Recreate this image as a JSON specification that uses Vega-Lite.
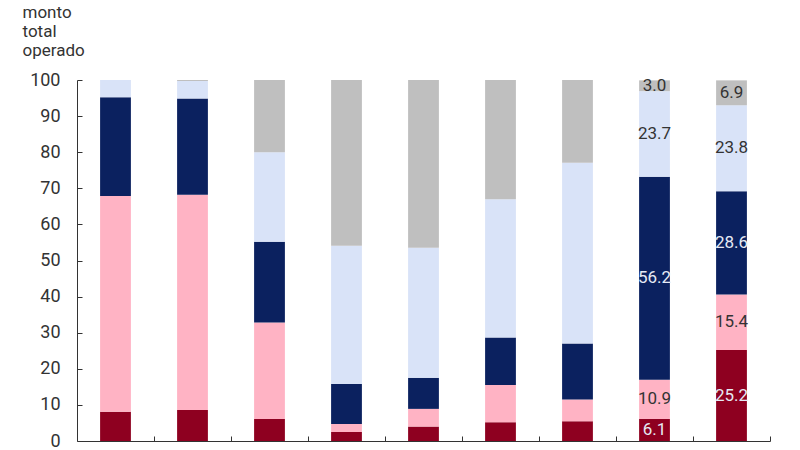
{
  "$schema": "https://vega.github.io/schema/vega-lite/v6.json",
  "width": 693,
  "height": 361,
  "autosize": {"type": "none"},
  "padding": {"left": 77, "top": 80, "right": 30, "bottom": 9},
  "background": "white",
  "config": {
    "font": "Roboto",
    "view": {"stroke": null}
  },
  "data": {
    "values": [
      {"cat": "A", "serie": "S1", "k": 1, "v": 8.1},
      {"cat": "A", "serie": "S2", "k": 2, "v": 59.8},
      {"cat": "A", "serie": "S3", "k": 3, "v": 27.3},
      {"cat": "A", "serie": "S4", "k": 4, "v": 4.8},
      {"cat": "A", "serie": "S5", "k": 5, "v": 0.0},
      {"cat": "B", "serie": "S1", "k": 1, "v": 8.6},
      {"cat": "B", "serie": "S2", "k": 2, "v": 59.6},
      {"cat": "B", "serie": "S3", "k": 3, "v": 26.7},
      {"cat": "B", "serie": "S4", "k": 4, "v": 4.8},
      {"cat": "B", "serie": "S5", "k": 5, "v": 0.3},
      {"cat": "C", "serie": "S1", "k": 1, "v": 6.1},
      {"cat": "C", "serie": "S2", "k": 2, "v": 26.7},
      {"cat": "C", "serie": "S3", "k": 3, "v": 22.4},
      {"cat": "C", "serie": "S4", "k": 4, "v": 24.8},
      {"cat": "C", "serie": "S5", "k": 5, "v": 20.0},
      {"cat": "D", "serie": "S1", "k": 1, "v": 2.5},
      {"cat": "D", "serie": "S2", "k": 2, "v": 2.2},
      {"cat": "D", "serie": "S3", "k": 3, "v": 11.1},
      {"cat": "D", "serie": "S4", "k": 4, "v": 38.3},
      {"cat": "D", "serie": "S5", "k": 5, "v": 45.9},
      {"cat": "E", "serie": "S1", "k": 1, "v": 4.0},
      {"cat": "E", "serie": "S2", "k": 2, "v": 4.9},
      {"cat": "E", "serie": "S3", "k": 3, "v": 8.6},
      {"cat": "E", "serie": "S4", "k": 4, "v": 36.0},
      {"cat": "E", "serie": "S5", "k": 5, "v": 46.5},
      {"cat": "F", "serie": "S1", "k": 1, "v": 5.2},
      {"cat": "F", "serie": "S2", "k": 2, "v": 10.3},
      {"cat": "F", "serie": "S3", "k": 3, "v": 13.2},
      {"cat": "F", "serie": "S4", "k": 4, "v": 38.3},
      {"cat": "F", "serie": "S5", "k": 5, "v": 33.0},
      {"cat": "G", "serie": "S1", "k": 1, "v": 5.5},
      {"cat": "G", "serie": "S2", "k": 2, "v": 6.0},
      {"cat": "G", "serie": "S3", "k": 3, "v": 15.5},
      {"cat": "G", "serie": "S4", "k": 4, "v": 50.1},
      {"cat": "G", "serie": "S5", "k": 5, "v": 22.9},
      {"cat": "H", "serie": "S1", "k": 1, "v": 6.1},
      {"cat": "H", "serie": "S2", "k": 2, "v": 10.9},
      {"cat": "H", "serie": "S3", "k": 3, "v": 56.2},
      {"cat": "H", "serie": "S4", "k": 4, "v": 23.7},
      {"cat": "H", "serie": "S5", "k": 5, "v": 3.0},
      {"cat": "I", "serie": "S1", "k": 1, "v": 25.2},
      {"cat": "I", "serie": "S2", "k": 2, "v": 15.4},
      {"cat": "I", "serie": "S3", "k": 3, "v": 28.6},
      {"cat": "I", "serie": "S4", "k": 4, "v": 23.8},
      {"cat": "I", "serie": "S5", "k": 5, "v": 6.9}
    ]
  },
  "resolve": {"axis": {"y": "independent"}},
  "encoding": {
    "x": {
      "field": "cat",
      "type": "nominal",
      "scale": {"paddingInner": 0, "paddingOuter": 0},
      "axis": {
        "title": null,
        "labels": false,
        "ticks": true,
        "tickSize": -5,
        "tickColor": "#333333",
        "domainColor": "#333333",
        "bandPosition": 1,
        "grid": false
      }
    }
  },
  "layer": [
    {
      "mark": {"type": "bar", "width": {"band": 0.4}},
      "encoding": {
        "y": {
          "field": "v",
          "type": "quantitative",
          "stack": "zero",
          "scale": {"domain": [0, 100], "nice": false},
          "axis": {
            "title": ["monto", "total", "operado"],
            "titleAngle": 0,
            "titleAlign": "left",
            "titleBaseline": "alphabetic",
            "titleX": -55,
            "titleY": -63,
            "titleFontSize": 17,
            "titleFontWeight": "normal",
            "titleColor": "#333333",
            "titleLineHeight": 19,
            "values": [0, 10, 20, 30, 40, 50, 60, 70, 80, 90, 100],
            "labelOverlap": false,
            "grid": false,
            "tickSize": -5,
            "tickColor": "#333333",
            "domainColor": "#333333",
            "labelFontSize": 18,
            "labelColor": "#333333",
            "labelPadding": 22
          }
        },
        "color": {
          "field": "serie",
          "type": "nominal",
          "legend": null,
          "scale": {
            "domain": ["S1", "S2", "S3", "S4", "S5"],
            "range": ["#8e0020", "#ffb3c4", "#0b215f", "#d9e3f8", "#bfbfbf"]
          }
        },
        "order": {"field": "k", "type": "quantitative"}
      }
    },
    {
      "transform": [
        {"filter": {"field": "cat", "oneOf": ["H", "I"]}},
        {"stack": "v", "groupby": ["cat"], "sort": [{"field": "k", "order": "ascending"}], "as": ["v0", "v1"]},
        {"fold": ["v0", "v1"], "as": ["edge", "pos"]},
        {"aggregate": [{"op": "mean", "field": "pos", "as": "mid"}], "groupby": ["cat", "serie", "k", "v"]}
      ],
      "mark": {"type": "text", "fontSize": 17, "baseline": "middle", "align": "center"},
      "encoding": {
        "y": {"field": "mid", "type": "quantitative", "axis": null},
        "text": {"field": "v", "type": "quantitative", "format": ".1f"},
        "color": {
          "condition": {"test": "datum.serie === 'S1' || datum.serie === 'S3'", "value": "#e6eaf5"},
          "value": "#333333"
        }
      }
    }
  ]
}
